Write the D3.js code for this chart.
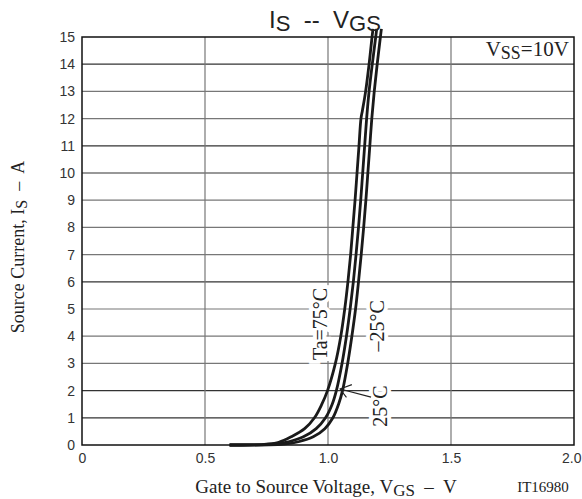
<!DOCTYPE html>
<html><head><meta charset="utf-8">
<script src="https://cdn.jsdelivr.net/npm/d3@7/dist/d3.min.js"></script>
<style>body{margin:0;background:#fff}svg{display:block}text{white-space:pre}</style>
</head><body><svg id="c" width="582" height="499"></svg>
<script>
const xTicks = [0, 0.5, 1.0, 1.5, 2.0];
const xTickLabels = ["0", "0.5", "1.0", "1.5", "2.0"];
const yTicks = [0,1,2,3,4,5,6,7,8,9,10,11,12,13,14,15];
const seriesNames = ["Ta=75°C", "25°C", "–25°C"];
const vgs75 = [0.60,0.70,0.75,0.80,0.85,0.905,0.945,0.975,0.998,1.03,1.052,1.068,1.081,1.092,1.101,1.11,1.118,1.126,1.134,1.140,1.153,1.167,1.179,1.183];
const is75  = [0,0.005,0.03,0.1,0.3,0.6,1.0,1.5,2.0,3,4,5,6,7,8,9,10,11,12,12.3,13,14,15,15.3];
const vgs25 = [0.60,0.72,0.78,0.84,0.90,0.952,0.99,1.017,1.034,1.057,1.075,1.09,1.103,1.114,1.124,1.133,1.141,1.149,1.157,1.167,1.18,1.194,1.198];
const is25  = [0,0.005,0.03,0.12,0.3,0.6,1.0,1.5,2,3,4,5,6,7,8,9,10,11,12,13,14,15,15.3];
const vgsM25 = [0.60,0.74,0.82,0.88,0.94,0.987,1.02,1.043,1.059,1.08,1.097,1.112,1.124,1.135,1.145,1.154,1.162,1.170,1.178,1.188,1.20,1.213,1.217];
const isM25  = [0,0.005,0.03,0.12,0.3,0.6,1.0,1.5,2,3,4,5,6,7,8,9,10,11,12,13,14,15,15.3];

const svg = d3.select("#c");
const L=82, R=574, T=37, B=445;
const x = d3.scaleLinear().domain([0,2]).range([L,R]);
const y = d3.scaleLinear().domain([0,15]).range([B,T]);

// grid
const darkRows = [1,2,6,10,11,14];
svg.append("g").selectAll("line").data(yTicks.filter(d=>d>0&&d<15)).join("line")
  .attr("x1",L).attr("x2",R).attr("y1",d=>y(d)).attr("y2",d=>y(d))
  .attr("stroke",d=>darkRows.includes(d)?"#333":"#777").attr("stroke-width",1.2);
svg.append("g").selectAll("line").data(xTicks.filter(d=>d>0&&d<2)).join("line")
  .attr("y1",T).attr("y2",B).attr("x1",d=>x(d)).attr("x2",d=>x(d))
  .attr("stroke","#777").attr("stroke-width",1.2);

// axes
const xAxis = d3.axisBottom(x).tickValues(xTicks).tickFormat((d,i)=>xTickLabels[i]).tickSize(0).tickPadding(6);
const gx = svg.append("g").attr("transform",`translate(0,${B})`).call(xAxis);
const yAxis = d3.axisLeft(y).tickValues(yTicks).tickSize(0).tickPadding(7);
const gy = svg.append("g").attr("transform",`translate(${L},0)`).call(yAxis);
[gx,gy].forEach(g=>{g.select(".domain").remove();
  g.selectAll("text").attr("font-family","Liberation Sans, Arial, sans-serif").attr("font-size",14).attr("fill","#333");});
gx.selectAll("text").attr("dy","0.85em");
gx.selectAll("text").filter(d=>d===2).attr("text-anchor","end").attr("dx",7);

// labels (under curves, over grid)
const serif = "Liberation Serif, Times New Roman, serif";
function rotLabel(txt, v, i){
  svg.append("text").attr("transform",`translate(${x(v)},${y(i)}) rotate(-90)`)
    .attr("text-anchor","middle").attr("dy","0.35em")
    .attr("font-family",serif).attr("font-size",20).attr("fill","#222")
    .attr("stroke","#fff").attr("stroke-width",8).attr("paint-order","stroke")
    .text(txt);
}
rotLabel(seriesNames[0], 0.966, 4.45);
rotLabel(seriesNames[2], 1.199, 4.38);
rotLabel(seriesNames[1], 1.212, 1.43);

// frame
svg.append("rect").attr("x",L).attr("y",T).attr("width",R-L).attr("height",B-T)
  .attr("fill","none").attr("stroke","#111").attr("stroke-width",1.5);

// curves
const line = d3.line().x(d=>x(d[0])).y(d=>y(d[1])).curve(d3.curveCatmullRom.alpha(0.5));
const series = [d3.zip(vgs75,is75), d3.zip(vgs25,is25), d3.zip(vgsM25,isM25)];
svg.append("g").selectAll("path").data(series).join("path")
  .attr("d",d=>line(d)).attr("fill","none")
  .attr("stroke","#1a1a1a").attr("stroke-width",2.8);

// arrow for 25°C
svg.append("line").attr("x1",x(1.175)).attr("y1",y(1.76)).attr("x2",x(1.049)).attr("y2",y(2.06))
  .attr("stroke","#222").attr("stroke-width",1.1);
svg.append("path").attr("d",`M${x(1.097)},${y(2.22)} L${x(1.049)},${y(2.06)} L${x(1.075)},${y(1.75)}`)
  .attr("fill","none").attr("stroke","#222").attr("stroke-width",1.1);

// VSS label
const vss = svg.append("text").attr("x",x(1.81)).attr("y",y(14.3))
  .attr("text-anchor","middle").attr("font-family",serif).attr("font-size",21).attr("fill","#222")
  .attr("stroke","#fff").attr("stroke-width",6).attr("paint-order","stroke");
vss.append("tspan").text("V");
vss.append("tspan").attr("font-size",18).attr("dy",3).text("SS");
vss.append("tspan").attr("dy",-3).text("=10V");

// title
const title = svg.append("text").attr("x",325).attr("y",28).attr("text-anchor","middle")
  .attr("font-family","Liberation Sans, Arial, sans-serif").attr("font-size",24).attr("fill","#222");
title.append("tspan").text("I");
title.append("tspan").attr("font-size",22).attr("dy",3).text("S");
title.append("tspan").attr("dy",-3).text("  --  V");
title.append("tspan").attr("font-size",22).attr("dy",3).text("GS");

// axis titles
const xt = svg.append("text").attr("x",326).attr("y",493).attr("text-anchor","middle")
  .attr("font-family",serif).attr("font-size",19).attr("fill","#222");
xt.append("tspan").text("Gate to Source Voltage, V");
xt.append("tspan").attr("font-size",17).attr("dy",3).text("GS");
xt.append("tspan").attr("dy",-3).text("  –  V");
svg.append("text").attr("x",543).attr("y",492).attr("text-anchor","middle")
  .attr("font-family",serif).attr("font-size",15).attr("fill","#222").text("IT16980");
const yt = svg.append("text").attr("transform","translate(24,247) rotate(-90)").attr("text-anchor","middle")
  .attr("font-family",serif).attr("font-size",18).attr("fill","#222");
yt.append("tspan").text("Source Current, I");
yt.append("tspan").attr("font-size",16).attr("dy",3).text("S");
yt.append("tspan").attr("dy",-3).text("  –  A");
</script></body></html>
